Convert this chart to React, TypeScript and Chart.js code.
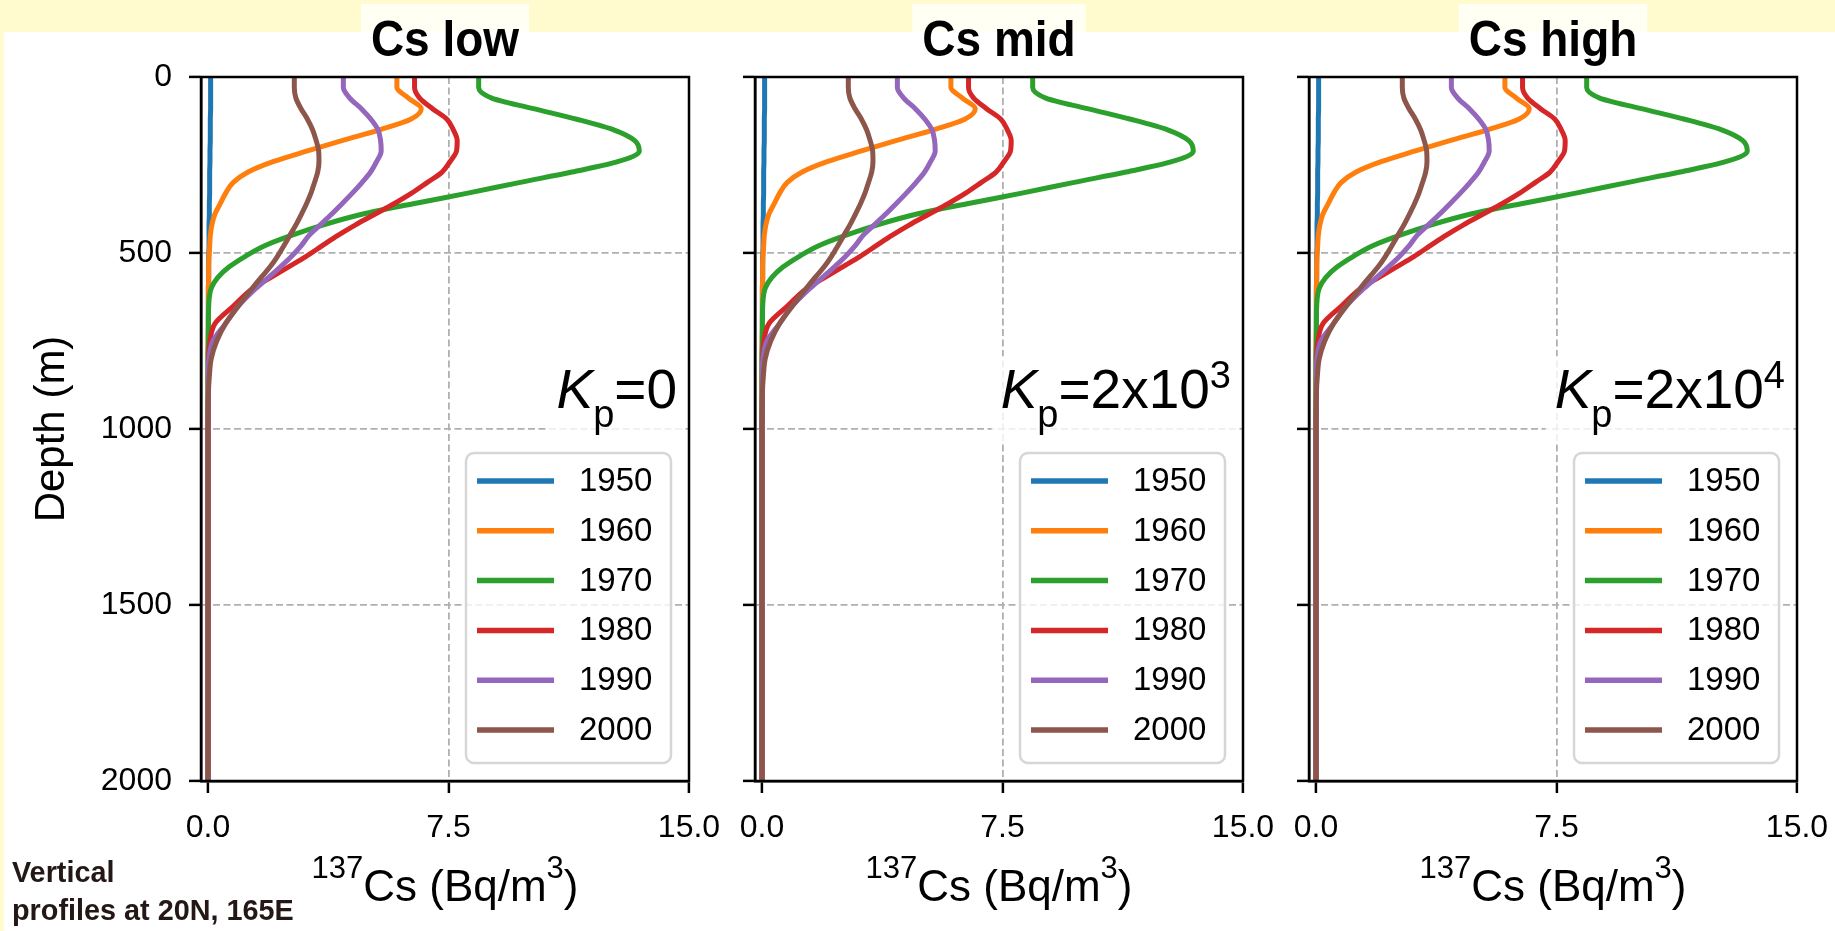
import React, { useEffect, useRef } from 'react';
import { Chart, registerables } from 'chart.js';

Chart.register(...registerables);

// ---------------- data ----------------
const DEPTHS = [0, 30, 60, 90, 120, 150, 180, 210, 240, 270, 300, 330, 360, 390, 420, 450, 480, 510, 540, 570, 600, 650, 700, 750, 800, 850, 900, 1000, 1200, 1500, 2000];

const YEARS = ['1950', '1960', '1970', '1980', '1990', '2000'];

const CS_1950 = [0.08, 0.08, 0.08, 0.08, 0.07, 0.07, 0.07, 0.06, 0.06, 0.05, 0.05, 0.05, 0.04, 0.04, 0.03, 0.03, 0.03, 0.02, 0.02, 0.02, 0.01, 0.01, 0.01, 0.01, 0, 0, 0, 0, 0, 0, 0];
const CS_1960 = [5.89, 5.89, 6.25, 6.65, 6.32, 5.35, 4.2, 3.1, 2.05, 1.25, 0.78, 0.55, 0.38, 0.21, 0.12, 0.07, 0.05, 0.03, 0.02, 0.02, 0.01, 0.01, 0.01, 0, 0, 0, 0, 0, 0, 0, 0];
const CS_1970 = [8.44, 8.44, 8.85, 10.15, 11.5, 12.65, 13.3, 13.45, 12.8, 11.35, 9.7, 8.1, 6.4, 4.8, 3.6, 2.6, 1.75, 1.15, 0.65, 0.3, 0.1, 0.02, 0.01, 0.01, 0, 0, 0, 0, 0, 0, 0];
const CS_1980 = [6.44, 6.44, 6.6, 7.0, 7.45, 7.65, 7.77, 7.75, 7.55, 7.3, 6.83, 6.35, 5.8, 5.2, 4.6, 4.05, 3.55, 3.05, 2.5, 1.95, 1.4, 0.8, 0.22, 0.06, 0.02, 0.01, 0.01, 0, 0, 0, 0];
const CS_1990 = [4.22, 4.22, 4.42, 4.78, 5.08, 5.3, 5.38, 5.4, 5.26, 5.07, 4.8, 4.5, 4.18, 3.85, 3.5, 3.15, 2.9, 2.6, 2.25, 1.88, 1.5, 0.95, 0.55, 0.15, 0.03, 0.01, 0.01, 0, 0, 0, 0];
const CS_2000 = [2.69, 2.69, 2.74, 2.9, 3.1, 3.26, 3.37, 3.45, 3.46, 3.42, 3.32, 3.21, 3.07, 2.91, 2.74, 2.55, 2.36, 2.16, 1.93, 1.65, 1.38, 0.95, 0.55, 0.27, 0.1, 0.04, 0.01, 0, 0, 0, 0];

const SERIES = [CS_1950, CS_1960, CS_1970, CS_1980, CS_1990, CS_2000];

const PANEL_TITLES = ['Cs low', 'Cs mid', 'Cs high'];
const KP_BASE = ['0', '2x10', '2x10'];
const KP_EXP = ['', '3', '4'];

const X_TICKS = [0, 7.5, 15];
const Y_TICKS = [0, 500, 1000, 1500, 2000];
const X_MIN = -0.22;
const X_MAX = 15;
const Y_MIN = 0;
const Y_MAX = 2000;

const Y_TITLE = 'Depth (m)';
const X_TITLE_PRE = '137';
const X_TITLE_MAIN = 'Cs (Bq/m';
const X_TITLE_EXP = '3';
const X_TITLE_END = ')';
const NOTE_LINES = ['Vertical', 'profiles at 20N, 165E'];

// ---------------- styles ----------------
const COLORS = ['#1f77b4', '#ff7f0e', '#2ca02c', '#d62728', '#9467bd', '#8c564b'];
const FONT = '"Liberation Sans", Arial, Helvetica, sans-serif';
const GRID = '#b0b0b0';
const YELLOW = '#fffbcf';

const PANELS = [
  { left: 0, width: 722, yAxisWidth: 201, padRight: 33, labels: true },
  { left: 722, width: 553, yAxisWidth: 33, padRight: 32, labels: false },
  { left: 1276, width: 559, yAxisWidth: 33, padRight: 38, labels: false },
];

function drawParts(ctx: CanvasRenderingContext2D, parts: { t: string; f: string; dy: number }[], x: number, base: number, align: 'right' | 'center') {
  let total = 0;
  const ws = parts.map((p) => {
    ctx.font = p.f;
    const w = ctx.measureText(p.t).width;
    total += w;
    return w;
  });
  let cx = align === 'right' ? x - total : x - total / 2;
  ctx.textAlign = 'left';
  ctx.textBaseline = 'alphabetic';
  parts.forEach((p, i) => {
    ctx.font = p.f;
    ctx.fillText(p.t, cx, base + p.dy);
    cx += ws[i];
  });
}

function makeExtras(idx: number) {
  return {
    id: 'panelExtras',
    afterDatasetsDraw(chart: any) {
      const { ctx, chartArea: a } = chart;
      ctx.save();
      ctx.strokeStyle = '#000';
      ctx.lineWidth = 2.5;
      ctx.strokeRect(a.left, a.top, a.right - a.left, a.bottom - a.top);
      ctx.restore();
    },
    afterDraw(chart: any) {
      const { ctx, chartArea: a } = chart;
      const cx = (a.left + a.right) / 2;

      // panel title with light box
      ctx.save();
      const title = PANEL_TITLES[idx];
      ctx.font = `bold 50px ${FONT}`;
      const sx = 0.92;
      const tw = ctx.measureText(title).width * sx;
      ctx.fillStyle = '#fffff4';
      ctx.fillRect(cx - tw / 2 - 10, 4, tw + 20, 28);
      ctx.translate(cx, 56);
      ctx.scale(sx, 1);
      ctx.fillStyle = '#000';
      ctx.textAlign = 'center';
      ctx.textBaseline = 'alphabetic';
      ctx.fillText(title, 0, 0);
      ctx.restore();

      // Kp annotation
      ctx.save();
      const base = a.top + 331;
      const parts = [
        { t: 'K', f: `italic 55px ${FONT}`, dy: 0 },
        { t: 'p', f: `38px ${FONT}`, dy: 19 },
        { t: '=' + KP_BASE[idx], f: `55px ${FONT}`, dy: 0 },
      ];
      if (KP_EXP[idx]) parts.push({ t: KP_EXP[idx], f: `38px ${FONT}`, dy: -20 });
      let total = 0;
      parts.forEach((p) => { ctx.font = p.f; total += ctx.measureText(p.t).width; });
      const rx = a.right - 12;
      ctx.fillStyle = 'rgba(255,255,255,0.8)';
      ctx.fillRect(rx - total - 9, base - 52, total + 16, 88);
      ctx.fillStyle = '#000';
      drawParts(ctx, parts, rx, base, 'right');
      ctx.restore();

      // legend
      ctx.save();
      const lw = 205, lh = 310;
      const lx = a.right - 18 - lw, ly = a.bottom - 18 - lh;
      ctx.beginPath();
      (ctx as any).roundRect(lx, ly, lw, lh, 8);
      ctx.fillStyle = 'rgba(255,255,255,0.8)';
      ctx.fill();
      ctx.strokeStyle = '#d6d6d6';
      ctx.lineWidth = 2.5;
      ctx.stroke();
      chart.data.datasets.forEach((ds: any, i: number) => {
        const yy = ly + 28 + i * 49.8;
        ctx.strokeStyle = ds.borderColor;
        ctx.lineWidth = 5.5;
        ctx.beginPath();
        ctx.moveTo(lx + 11, yy);
        ctx.lineTo(lx + 88, yy);
        ctx.stroke();
        ctx.fillStyle = '#000';
        ctx.font = `33px ${FONT}`;
        ctx.textAlign = 'left';
        ctx.textBaseline = 'middle';
        ctx.fillText(ds.label, lx + 113, yy + 1);
      });
      ctx.restore();

      // x axis title with superscripts
      ctx.save();
      ctx.fillStyle = '#000';
      drawParts(ctx, [
        { t: X_TITLE_PRE, f: `31px ${FONT}`, dy: -23 },
        { t: X_TITLE_MAIN, f: `44px ${FONT}`, dy: 0 },
        { t: X_TITLE_EXP, f: `31px ${FONT}`, dy: -23 },
        { t: X_TITLE_END, f: `44px ${FONT}`, dy: 0 },
      ], cx, 901, 'center');
      ctx.restore();

      // footnote (first panel only)
      if (idx === 0) {
        ctx.save();
        ctx.fillStyle = '#231815';
        ctx.font = `bold 30px ${FONT}`;
        ctx.textAlign = 'left';
        ctx.textBaseline = 'alphabetic';
        ctx.translate(12, 0);
        ctx.scale(0.96, 1);
        ctx.fillText(NOTE_LINES[0], 0, 882);
        ctx.fillText(NOTE_LINES[1], 0, 920);
        ctx.restore();
      }
    },
  };
}

function Panel({ idx }: { idx: number }) {
  const ref = useRef<HTMLCanvasElement | null>(null);
  const p = PANELS[idx];
  useEffect(() => {
    if (!ref.current) return;
    const chart = new Chart(ref.current, {
      type: 'line',
      data: {
        datasets: SERIES.map((vals, i) => ({
          label: YEARS[i],
          data: DEPTHS.map((d, k) => ({ x: vals[k], y: d })),
          borderColor: COLORS[i],
          backgroundColor: COLORS[i],
          borderWidth: 5,
          pointRadius: 0,
          fill: false,
          cubicInterpolationMode: 'monotone',
          order: SERIES.length - i,
        })),
      },
      options: {
        indexAxis: 'y',
        responsive: false,
        animation: false,
        devicePixelRatio: 1,
        events: [],
        layout: { padding: { left: 0, right: p.padRight, top: 77, bottom: 0 } },
        plugins: {
          legend: { display: false },
          tooltip: { enabled: false },
          title: { display: false },
        },
        scales: {
          x: {
            type: 'linear',
            position: 'bottom',
            min: X_MIN,
            max: X_MAX,
            afterBuildTicks: (s: any) => { s.ticks = X_TICKS.map((v) => ({ value: v })); },
            afterFit: (s: any) => { s.height = 150; s.paddingLeft = 0; s.paddingRight = 0; },
            grid: {
              color: (c: any) => (c.tick && c.tick.value === 0 ? 'rgba(0,0,0,0)' : GRID),
              lineWidth: 1.8,
              tickColor: '#000',
              tickWidth: 2.5,
              tickLength: 12,
              drawTicks: true,
            },
            border: { display: true, color: '#000', width: 2.5, dash: [7, 3.5] },
            ticks: {
              color: '#000',
              font: { family: FONT, size: 32 },
              padding: 16,
              maxRotation: 0,
              autoSkip: false,
              callback: (v: any) => Number(v).toFixed(1),
            },
          },
          y: {
            type: 'linear',
            position: 'left',
            reverse: true,
            min: Y_MIN,
            max: Y_MAX,
            afterBuildTicks: (s: any) => { s.ticks = Y_TICKS.map((v) => ({ value: v })); },
            afterFit: (s: any) => { s.width = p.yAxisWidth; s.paddingTop = 0; s.paddingBottom = 0; },
            grid: {
              color: GRID,
              lineWidth: 1.8,
              tickColor: '#000',
              tickWidth: 2.5,
              tickLength: 12,
              drawTicks: true,
            },
            border: { display: true, color: '#000', width: 2.5, dash: [7, 3.5] },
            ticks: {
              display: p.labels,
              color: '#000',
              font: { family: FONT, size: 32 },
              padding: 17,
              autoSkip: false,
              callback: (v: any) => String(v),
            },
            title: {
              display: p.labels,
              text: Y_TITLE,
              color: '#000',
              font: { family: FONT, size: 42 },
              padding: { top: 27, bottom: 0 },
            },
          },
        },
      } as any,
      plugins: [makeExtras(idx)],
    });
    return () => chart.destroy();
  }, [idx]);
  return (
    <canvas
      ref={ref}
      width={p.width}
      height={931}
      style={{ position: 'absolute', left: p.left, top: 0, width: p.width, height: 931 }}
    />
  );
}

export default function App() {
  useEffect(() => {
    document.body.style.margin = '0';
  }, []);
  return (
    <div style={{ position: 'absolute', left: 0, top: 0, width: 1835, height: 931, background: '#ffffff', overflow: 'hidden' }}>
      <div style={{ position: 'absolute', left: 0, top: 0, width: 1835, height: 32, background: YELLOW }} />
      <div style={{ position: 'absolute', left: 0, top: 0, width: 4, height: 931, background: YELLOW }} />
      {PANELS.map((_, i) => (
        <Panel key={i} idx={i} />
      ))}
    </div>
  );
}
